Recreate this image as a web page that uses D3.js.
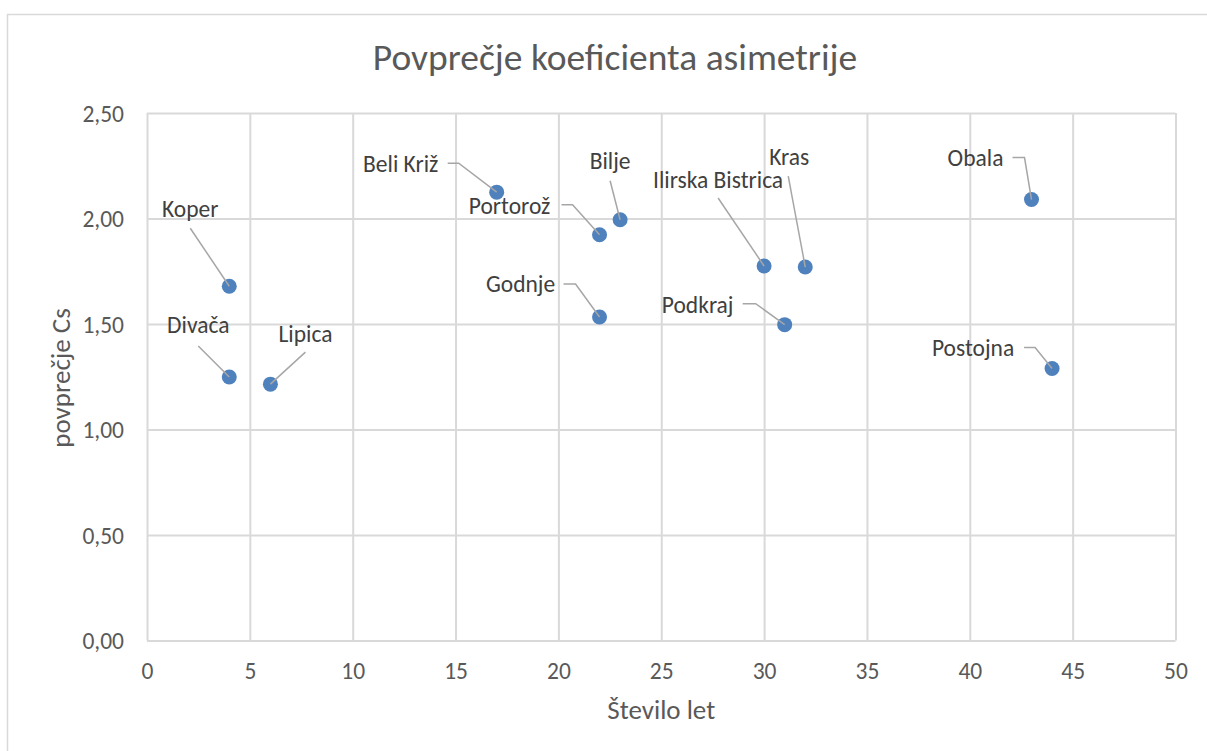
<!DOCTYPE html>
<html>
<head>
<meta charset="utf-8">
<script src="https://cdn.jsdelivr.net/npm/d3@7"></script>
<style>
    body { margin: 0; background: #fff; }
    text { font-family: Calibri, Carlito, Lato, sans-serif; }
</style>
</head>
<body>
<div id="chart"></div>
<script>
// data
const stations = ['Koper', 'Divača', 'Lipica', 'Beli Križ', 'Portorož', 'Bilje', 'Godnje',
    'Ilirska Bistrica', 'Kras', 'Podkraj', 'Obala', 'Postojna'];
const years = [4, 4, 6, 17, 22, 23, 22, 30, 32, 31, 43, 44];
const mean_cs = [1.679, 1.249, 1.215, 2.125, 1.923, 1.994, 1.533, 1.775, 1.770, 1.497, 2.090, 1.289];
const x_ticks = [0, 5, 10, 15, 20, 25, 30, 35, 40, 45, 50];
const y_ticks = [0, 0.5, 1, 1.5, 2, 2.5];

// label placement relative to the marker (px): text centre/baseline, leader start, optional elbow
const label_layout = [
    { dx: -39, dy: -69, start: [-39, -58] },
    { dx: -31, dy: -44, start: [-31, -31] },
    { dx: 35, dy: -42, start: [35, -32] },
    { dx: -96, dy: -20, start: [-49, -29], elbow: [-38, -29] },
    { dx: -90, dy: -21, start: [-38, -30], elbow: [-27, -30] },
    { dx: -10, dy: -51, start: [-10, -39] },
    { dx: -79, dy: -25, start: [-36, -33], elbow: [-24, -33] },
    { dx: -46, dy: -78, start: [-46, -68] },
    { dx: -16, dy: -102, start: [-17, -91] },
    { dx: -87, dy: -12, start: [-42, -21], elbow: [-29, -21] },
    { dx: -56, dy: -34, start: [-19, -42], elbow: [-7, -42] },
    { dx: -79, dy: -13, start: [-28, -21], elbow: [-17, -21] }
];

const width = 1207, height = 751;
const plot = { left: 147, right: 1175.5, top: 113, bottom: 640.5 };
const grid_color = '#d9d9d9';

let svg = d3.select('#chart').append('svg')
    .attr('width', width)
    .attr('height', height);

svg.append('rect')
    .attr('x', 0).attr('y', 0)
    .attr('width', width).attr('height', height)
    .attr('fill', '#fff');

// chart border (runs off the right and bottom edge)
svg.append('rect')
    .attr('x', 7.5).attr('y', 14.5)
    .attr('width', 1230).attr('height', 760)
    .attr('fill', 'none')
    .attr('stroke', grid_color)
    .attr('stroke-width', 1.5);

let x = d3.scaleLinear().domain([0, 50]).range([plot.left, plot.right]);
let y = d3.scaleLinear().domain([0, 2.5]).range([plot.bottom, plot.top]);

let fmt_y = d => d3.format('.2f')(d).replace('.', ',');

// gridlines
let x_axis = svg.append('g')
    .attr('transform', 'translate(0,' + plot.bottom + ')')
    .call(d3.axisBottom(x).tickValues(x_ticks).tickSize(-(plot.bottom - plot.top)).tickPadding(22));

let y_axis = svg.append('g')
    .attr('transform', 'translate(' + plot.left + ',0)')
    .call(d3.axisLeft(y).tickValues(y_ticks).tickFormat(fmt_y).tickSize(-(plot.right - plot.left)).tickPadding(23));

[x_axis, y_axis].forEach(function (axis) {
    axis.select('.domain').remove();
    axis.selectAll('.tick line')
        .attr('stroke', grid_color)
        .attr('stroke-width', 2);
    axis.selectAll('.tick text')
        .attr('fill', '#595959')
        .style('font-size', '23.5px');
});
x_axis.selectAll('.tick text').attr('dy', '0.71em');
y_axis.selectAll('.tick text').attr('dy', '0.35em');

// title and axis titles
svg.append('text')
    .attr('x', 615).attr('y', 70)
    .attr('text-anchor', 'middle')
    .attr('fill', '#595959')
    .style('font-size', '37.5px')
    .text('Povprečje koeficienta asimetrije');

svg.append('text')
    .attr('x', (plot.left + plot.right) / 2).attr('y', 719)
    .attr('text-anchor', 'middle')
    .attr('fill', '#595959')
    .style('font-size', '27px')
    .text('Število let');

svg.append('text')
    .attr('transform', 'translate(70,378) rotate(-90)')
    .attr('text-anchor', 'middle')
    .attr('fill', '#595959')
    .style('font-size', '27px')
    .text('povprečje Cs');

let points = stations.map(function (name, i) {
    return { name: name, px: x(years[i]), py: y(mean_cs[i]), layout: label_layout[i] };
});

// markers
svg.append('g').selectAll('circle')
    .data(points)
    .join('circle')
    .attr('cx', d => d.px)
    .attr('cy', d => d.py)
    .attr('r', 7.5)
    .attr('fill', '#4f81bd');

// leader lines drawn over the markers
let line = d3.line();
svg.append('g').selectAll('path')
    .data(points)
    .join('path')
    .attr('d', function (d) {
        let pts = [[d.px + d.layout.start[0], d.py + d.layout.start[1]]];
        if (d.layout.elbow) {
            pts.push([d.px + d.layout.elbow[0], d.py + d.layout.elbow[1]]);
        }
        pts.push([d.px, d.py]);
        return line(pts);
    })
    .attr('fill', 'none')
    .attr('stroke', '#a6a6a6')
    .attr('stroke-width', 1.5);

svg.append('g').selectAll('text')
    .data(points)
    .join('text')
    .attr('x', d => d.px + d.layout.dx)
    .attr('y', d => d.py + d.layout.dy)
    .attr('text-anchor', 'middle')
    .attr('fill', '#404040')
    .style('font-size', '23.5px')
    .text(d => d.name);
</script>
</body>
</html>
